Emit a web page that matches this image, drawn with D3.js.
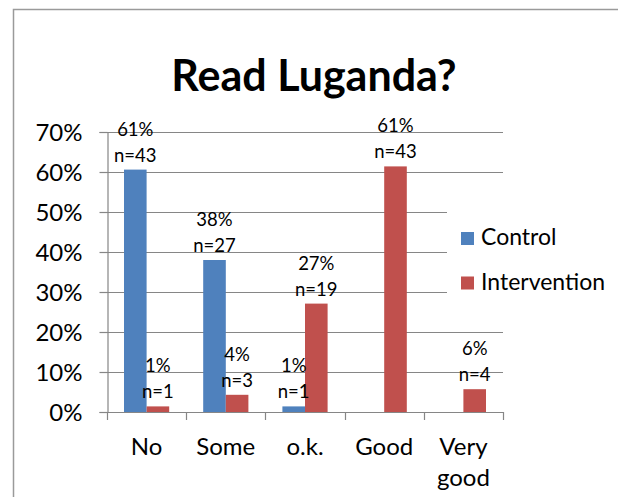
<!DOCTYPE html>
<html>
<head>
<meta charset="utf-8">
<script src="https://cdn.jsdelivr.net/npm/d3@7"></script>
<style>
  body { margin: 0; background: #fff; }
  text { font-family: Lato, "Open Sans", sans-serif; fill: #000; }
</style>
</head>
<body>
<div id="chart"></div>
<script>
// chart data
var categories = ['No', 'Some', 'o.k.', 'Good', 'Very good'];
var series = ['Control', 'Intervention'];
var controlPct = [60.6, 38.0, 1.4, 0, 0];
var controlN = [43, 27, 1, 0, 0];
var interventionPct = [1.4, 4.3, 27.1, 61.4, 5.7];
var interventionN = [1, 3, 19, 43, 4];
var yTicks = [0, 10, 20, 30, 40, 50, 60, 70];
var colors = ['#4f81bd', '#c0504d'];

var W = 618, H = 497;
var plot = {left: 107, right: 503, top: 132, bottom: 412};
var gray = '#868686';

var svg = d3.select('#chart').append('svg')
    .attr('width', W)
    .attr('height', H);

// outer frame (cropped on right and bottom)
svg.append('path')
    .attr('d', 'M13.5,' + H + ' V9.5 H' + W)
    .attr('fill', 'none')
    .attr('stroke', '#9a9a9a')
    .attr('stroke-width', 1.5);

svg.append('text')
    .attr('x', 314).attr('y', 91)
    .attr('text-anchor', 'middle')
    .style('font-size', '43px')
    .style('font-weight', 'bold')
    .text('Read Luganda?');

var y = d3.scaleLinear().domain([0, 70]).range([plot.bottom, plot.top]);
var x = d3.scaleBand().domain(categories).range([plot.left, plot.right]);
var x1 = d3.scaleBand().domain(series).range([17, x.bandwidth() - 17]);

// gridlines
svg.append('g').selectAll('line')
    .data(yTicks.slice(1))
    .enter().append('line')
    .attr('x1', plot.left).attr('x2', plot.right)
    .attr('y1', function(d){ return Math.round(y(d)) + 0.5; })
    .attr('y2', function(d){ return Math.round(y(d)) + 0.5; })
    .attr('stroke', gray)
    .attr('stroke-width', 1.2);

// legend background hides part of the gridlines
svg.append('rect')
    .attr('x', 447).attr('y', 198)
    .attr('width', W - 447).attr('height', 110)
    .attr('fill', '#fff');

var rows = categories.map(function(c, i){
    return [
        {cat: c, s: series[0], v: controlPct[i], n: controlN[i]},
        {cat: c, s: series[1], v: interventionPct[i], n: interventionN[i]}
    ];
});
var flat = [].concat.apply([], rows);

svg.append('g').selectAll('rect')
    .data(flat.filter(function(d){ return d.v > 0; }))
    .enter().append('rect')
    .attr('x', function(d){ return x(d.cat) + x1(d.s); })
    .attr('width', x1.bandwidth())
    .attr('y', function(d){ return y(d.v); })
    .attr('height', function(d){ return y(0) - y(d.v); })
    .attr('fill', function(d){ return colors[series.indexOf(d.s)]; });

// axes
var yAxis = svg.append('g')
    .attr('transform', 'translate(' + (plot.left + 0.5) + ',0)')
    .call(d3.axisLeft(y).tickValues(yTicks).tickSize(8).tickPadding(17)
        .tickFormat(function(d){ return d + '%'; }));
yAxis.select('.domain').attr('stroke', gray).attr('stroke-width', 1.2);
yAxis.selectAll('.tick line').attr('stroke', gray).attr('stroke-width', 1.2);
yAxis.selectAll('.tick text')
    .style('font-size', '24px')
    .attr('fill', '#000')
    .attr('dy', '0.36em');

var bounds = categories.map(function(c){ return x(c); }).concat([plot.right]);
var xg = svg.append('g');
xg.append('line')
    .attr('x1', plot.left).attr('x2', plot.right)
    .attr('y1', plot.bottom + 0.5).attr('y2', plot.bottom + 0.5)
    .attr('stroke', gray).attr('stroke-width', 1.2);
xg.selectAll('.tk')
    .data(bounds)
    .enter().append('line')
    .attr('class', 'tk')
    .attr('x1', function(d){ return Math.round(d) + 0.5; })
    .attr('x2', function(d){ return Math.round(d) + 0.5; })
    .attr('y1', plot.bottom).attr('y2', plot.bottom + 8)
    .attr('stroke', gray).attr('stroke-width', 1.2);

xg.selectAll('.cat')
    .data(categories)
    .enter().append('text')
    .attr('class', 'cat')
    .attr('text-anchor', 'middle')
    .style('font-size', '24px')
    .each(function(d){
        var words = d.split(' ');
        var t = d3.select(this);
        words.forEach(function(w, i){
            t.append('tspan')
                .attr('x', x(d) + x.bandwidth() / 2)
                .attr('y', 455 + i * 31)
                .text(w);
        });
    });

// data labels
var lab = svg.append('g').selectAll('text')
    .data(flat.filter(function(d){ return d.n > 0; }))
    .enter().append('text')
    .attr('text-anchor', 'middle')
    .style('font-size', '18.5px');
lab.append('tspan')
    .attr('x', function(d){ return x(d.cat) + x1(d.s) + x1.bandwidth() / 2; })
    .attr('y', function(d){ return y(d.v) - 34; })
    .text(function(d){ return Math.round(d.v) + '%'; });
lab.append('tspan')
    .attr('x', function(d){ return x(d.cat) + x1(d.s) + x1.bandwidth() / 2; })
    .attr('y', function(d){ return y(d.v) - 8; })
    .text(function(d){ return 'n=' + d.n; });

// legend
var leg = svg.append('g').selectAll('g')
    .data(series)
    .enter().append('g')
    .attr('transform', function(d, i){ return 'translate(461,' + (232 + i * 44.5) + ')'; });
leg.append('rect')
    .attr('width', 13).attr('height', 13)
    .attr('fill', function(d, i){ return colors[i]; });
leg.append('text')
    .attr('x', 20).attr('y', 13)
    .style('font-size', '23px')
    .text(function(d){ return d; });
</script>
</body>
</html>
